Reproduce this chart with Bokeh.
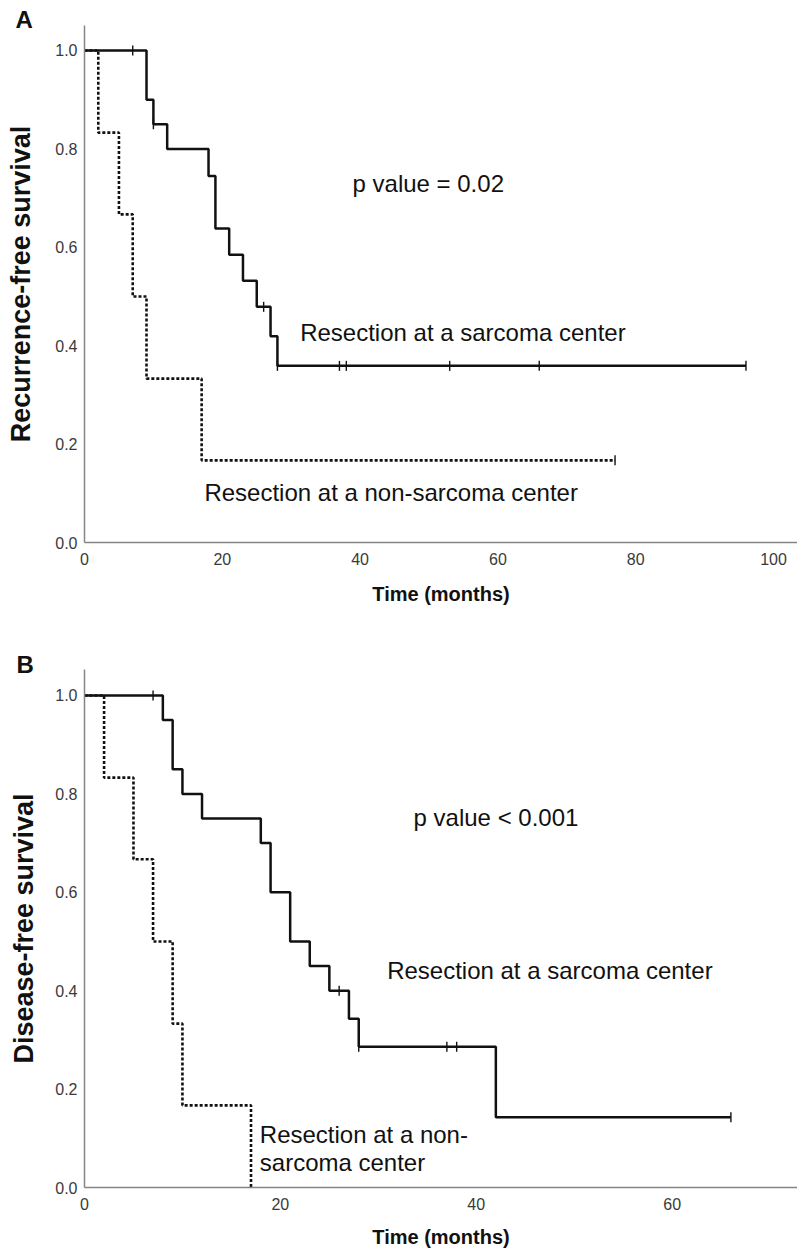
import numpy as np
from bokeh.plotting import figure
from bokeh.layouts import column
from bokeh.models import Range1d, FixedTicker, NumeralTickFormatter, Label
from bokeh.embed import file_html
from bokeh.resources import INLINE

# ---------------- data ----------------
# Panel A: recurrence-free survival
a_sc_time = [0, 9, 10, 12, 18, 19, 21, 23, 25, 27, 28]
a_sc_surv = [1.0, 0.90, 0.85, 0.80, 0.745, 0.638, 0.585, 0.532, 0.479, 0.419, 0.359]
a_sc_censor = [7, 10, 26, 28, 37, 38, 53, 66, 96]

a_nsc_time = [0, 2, 5, 7, 9, 17]
a_nsc_surv = [1.0, 0.833, 0.667, 0.5, 0.333, 0.167]
a_nsc_censor = [77]

# Panel B: disease-free survival
b_sc_time = [0, 8, 9, 10, 12, 18, 19, 21, 23, 25, 27, 28, 42]
b_sc_surv = [1.0, 0.95, 0.85, 0.80, 0.75, 0.70, 0.60, 0.50, 0.45, 0.40, 0.343, 0.286, 0.143]
b_sc_censor = [7, 26, 28, 37, 38, 66]

b_nsc_time = [0, 2, 5, 7, 9, 10, 17]
b_nsc_surv = [1.0, 0.833, 0.667, 0.5, 0.333, 0.167, 0.0]
b_nsc_censor = []

x_ticks_a = [0, 20, 40, 60, 80, 100]
x_ticks_b = [0, 20, 40, 60]
y_ticks = [0.0, 0.2, 0.4, 0.6, 0.8, 1.0]

FONT = "Liberation Sans"
INK = "#111111"


def km_curve(p, times, surv, censor, dash):
    xs = list(times)
    ys = list(surv)
    if censor and max(censor) > xs[-1]:
        xs.append(max(censor))
        ys.append(ys[-1])
    kw = dict(line_color=INK, line_width=2.5 if dash is None else 2.6)
    if dash is not None:
        kw["line_dash"] = dash
    p.step(xs, ys, mode="after", **kw)
    if censor:
        t = np.asarray(times, dtype=float)
        idx = np.searchsorted(t, np.asarray(censor, dtype=float), side="right") - 1
        cy = [surv[i] for i in idx]
        p.scatter(censor, cy, marker="dash", angle=np.pi / 2, size=10,
                  line_color=INK, line_width=1.4)


def style(p, xticks, ylab, ystand, xstand):
    p.xgrid.visible = False
    p.ygrid.visible = False
    p.outline_line_color = None
    p.background_fill_color = "white"
    p.border_fill_color = "white"
    for ax in (p.xaxis[0], p.yaxis[0]):
        ax.axis_line_color = "#858585"
        ax.axis_line_width = 1.5
        ax.major_tick_line_color = None
        ax.minor_tick_line_color = None
        ax.major_tick_out = 0
        ax.major_tick_in = 0
        ax.minor_tick_out = 0
        ax.minor_tick_in = 0
        ax.major_label_text_font = FONT
        ax.major_label_text_font_size = "16px"
        ax.major_label_text_color = "#3a3a3a"
        ax.axis_label_text_font = FONT
        ax.axis_label_text_font_style = "bold"
        ax.axis_label_text_color = INK
    p.xaxis[0].ticker = FixedTicker(ticks=xticks)
    p.yaxis[0].ticker = FixedTicker(ticks=y_ticks)
    p.yaxis[0].formatter = NumeralTickFormatter(format="0.0")
    p.xaxis[0].major_label_standoff = 10
    p.yaxis[0].major_label_standoff = 7
    p.xaxis[0].axis_label = "Time (months)"
    p.yaxis[0].axis_label = ylab
    p.xaxis[0].axis_label_text_font_size = "20px"
    p.yaxis[0].axis_label_text_font_size = "27px"
    p.xaxis[0].axis_label_standoff = xstand
    p.yaxis[0].axis_label_standoff = ystand


def label(p, x, y, text, size="24px", bold=False):
    p.add_layout(Label(x=x, y=y, text=text, text_font=FONT, text_font_size=size,
                       text_font_style="bold" if bold else "normal",
                       text_color=INK, text_baseline="alphabetic", text_align="left"))


def panel_letter(p, text, offset, standoff):
    p.title.text = text
    p.title.text_font = FONT
    p.title.text_font_size = "24px"
    p.title.text_font_style = "bold"
    p.title.text_color = INK
    p.title.align = "left"
    p.title.offset = offset
    p.title.standoff = standoff


# ---------------- panel A ----------------
pA = figure(width=797, height=608, output_backend="svg", toolbar_location=None,
            x_range=Range1d(0, 103.48), y_range=Range1d(0, 1.0508),
            min_border_left=84, min_border_right=0, min_border_top=25, min_border_bottom=66)
style(pA, x_ticks_a, "Recurrence-free survival", 16, 15)
km_curve(pA, a_nsc_time, a_nsc_surv, a_nsc_censor, "3 2")
km_curve(pA, a_sc_time, a_sc_surv, a_sc_censor, None)
label(pA, 38.9, 0.730, "p value = 0.02")
label(pA, 31.3, 0.4275, "Resection at a sarcoma center")
label(pA, 17.4, 0.102, "Resection at a non-sarcoma center")
panel_letter(pA, "A", -69, -15)

# ---------------- panel B ----------------
pB = figure(width=797, height=643, output_backend="svg", toolbar_location=None,
            x_range=Range1d(0, 72.8), y_range=Range1d(0, 1.0528),
            min_border_left=80, min_border_right=0, min_border_top=61, min_border_bottom=64)
style(pB, x_ticks_b, "Disease-free survival", 13, 13)
km_curve(pB, b_nsc_time, b_nsc_surv, b_nsc_censor, "3 2")
km_curve(pB, b_sc_time, b_sc_surv, b_sc_censor, None)
label(pB, 33.6, 0.751, "p value < 0.001")
label(pB, 30.9, 0.441, "Resection at a sarcoma center")
label(pB, 17.9, 0.108, "Resection at a non-")
label(pB, 17.9, 0.050, "sarcoma center")
panel_letter(pB, "B", -68, -16)

layout = column(pA, pB, spacing=0)
open("out.html", "w").write(file_html(layout, INLINE))
